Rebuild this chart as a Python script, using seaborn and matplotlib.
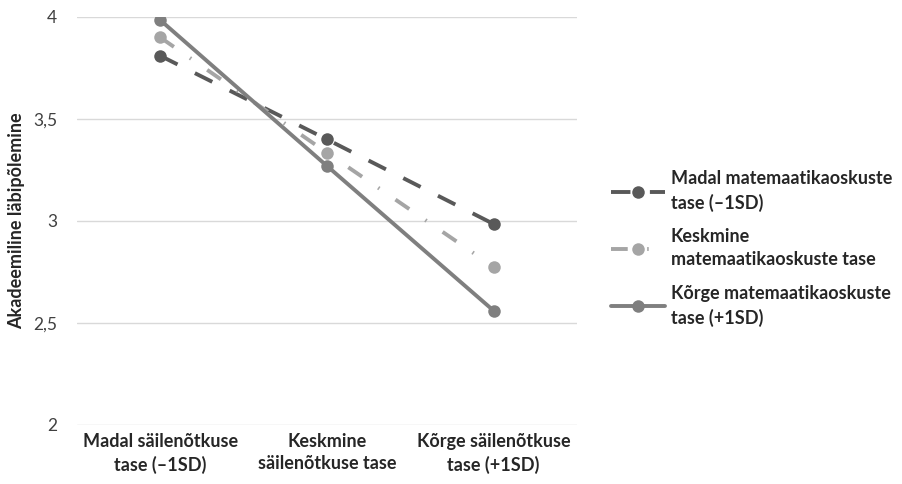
import pandas as pd
import matplotlib.pyplot as plt
import seaborn as sns

# x categories (resilience level) and y values per maths-skill group
categories = ["Madal säilenõtkuse\ntase (–1SD)", "Keskmine\nsäilenõtkuse tase", "Kõrge säilenõtkuse\ntase (+1SD)"]
groups = ["Madal matemaatikaoskuste\ntase (–1SD)", "Keskmine\nmatemaatikaoskuste tase", "Kõrge matemaatikaoskuste\ntase (+1SD)"]
madal = [3.81, 3.40, 2.985]
keskmine = [3.90, 3.335, 2.775]
korge = [3.985, 3.27, 2.56]
yticks = [2, 2.5, 3, 3.5, 4]
ytick_labels = ["2", "2,5", "3", "3,5", "4"]

rows = []
for g, vals in zip(groups, [madal, keskmine, korge]):
    for c, v in zip(categories, vals):
        rows.append({"kat": c, "grupp": g, "vaartus": v})
df = pd.DataFrame(rows)

sns.set_style("white")
plt.rcParams['font.family'] = ['Lato', 'DejaVu Sans']

palette = {groups[0]: "#595959", groups[1]: "#A5A5A5", groups[2]: "#7F7F7F"}
dashes = {groups[0]: (5, 5), groups[1]: (4.3, 5, 0.4, 5), groups[2]: ""}

fig = plt.figure(figsize=(9.03, 4.84), dpi=100)
ax = fig.add_axes([0.085, 0.122, 0.554, 0.843])
ax.yaxis.grid(True, color="#D9D9D9", linewidth=1)
ax.set_axisbelow(True)

sns.lineplot(data=df, x="kat", y="vaartus", hue="grupp", style="grupp",
             palette=palette, dashes=dashes, markers={g: "o" for g in groups},
             linewidth=2.8, markersize=9, markeredgewidth=0, ax=ax, sort=False)

ax.set_ylim(2, 4)
ax.set_xlim(-0.5, 2.5)
ax.set_yticks(yticks)
ax.set_yticklabels(ytick_labels, fontsize=12.5, color="#404040")
ax.set_xticks(range(len(categories)))
ax.set_xticklabels(categories, fontsize=13, fontweight="bold", color="#262626", linespacing=1.35)
ax.tick_params(axis="x", length=0, pad=6)
ax.tick_params(axis="y", length=0, pad=14)
ax.set_xlabel("")
ax.set_ylabel("Akadeemiline läbipõlemine", fontsize=13, fontweight="bold", color="#262626", labelpad=6)
for s in ax.spines.values():
    s.set_visible(False)

handles, labels = ax.get_legend_handles_labels()
ax.get_legend().remove()
leg = fig.legend(handles, labels, loc="center left", bbox_to_anchor=(0.659, 0.487),
                 frameon=False, handlelength=3.0, handletextpad=0.3, labelspacing=0.9,
                 prop={"weight": "bold", "size": 13}, labelcolor="#262626")
for t in leg.get_texts():
    t.set_linespacing(1.45)

fig.savefig("out.png", dpi=100)
